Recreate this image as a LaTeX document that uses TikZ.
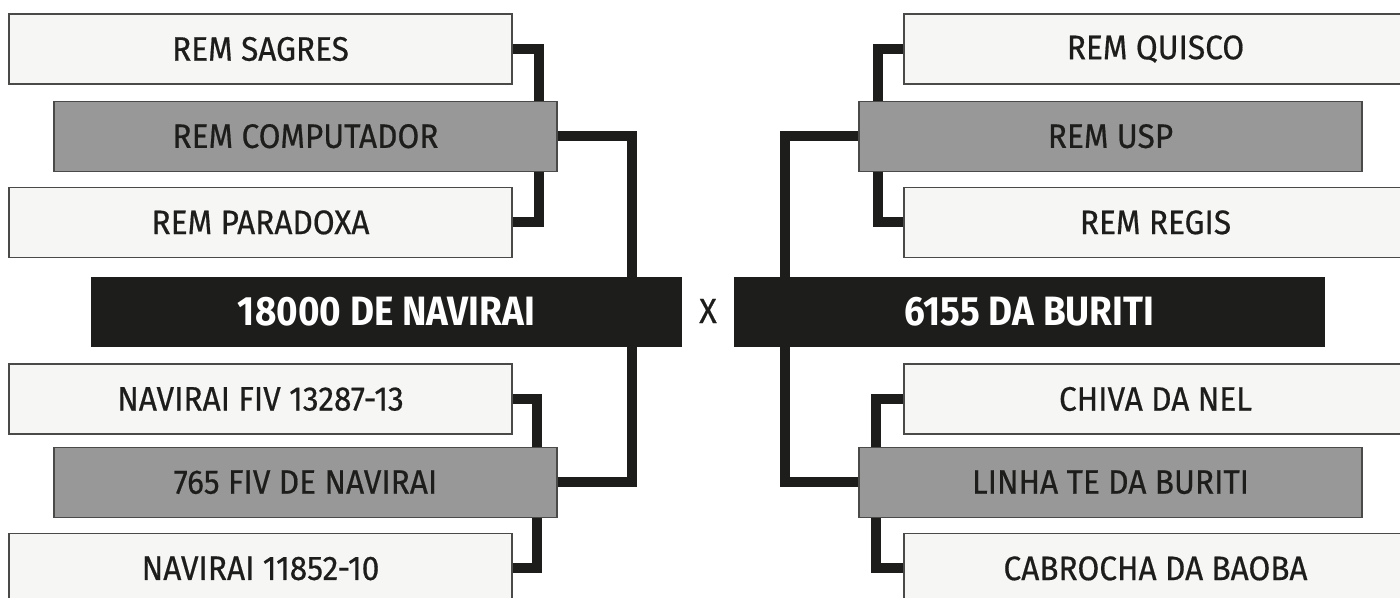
\documentclass[tikz,border=0pt]{standalone}
\usepackage{fontspec}
\setmainfont[FakeStretch=0.93, FakeBold=0.5, BoldFeatures={FakeStretch=0.9, FakeBold=0}]{Fira Sans}
\usepackage{tikz}
\usetikzlibrary{positioning,calc}
\usepackage{xcolor}
\definecolor{ink}{HTML}{1D1D1B}
\definecolor{paper}{HTML}{F6F6F4}
\definecolor{midgray}{HTML}{989898}
\definecolor{edge}{HTML}{4A4A48}

\begin{document}
\begin{tikzpicture}[
  x=1pt, y=-1pt,
  font=\fontsize{34}{38}\selectfont,
  teambase/.style={draw=edge, line width=1.2pt, text=ink,
              minimum width=503pt, minimum height=70pt, inner sep=0pt},
  teamA/.style={teambase, fill=paper},
  teamB/.style={teambase, fill=midgray},
  final/.style={fill=ink, text=white, inner sep=0pt,
              minimum width=591pt, minimum height=70pt,
              font=\fontsize{41}{46}\selectfont\bfseries},
  link/.style={draw=ink, line width=10pt},
]
\useasboundingbox (0,0) rectangle (1400,597);

% left bracket
\node[teamA] (sagres) at (260.5,49) {REM SAGRES};
\node[teamB, below=16pt of sagres, xshift=45pt] (comp) {REM COMPUTADOR};
\node[teamA, below=15pt of comp, xshift=-45pt] (para) {REM PARADOXA};
\node[final] (navirai) at (386.5,312) {18000 DE NAVIRAI};
\node[teamA] (fiv13) at (260.5,399) {NAVIRAI FIV 13287-13};
\node[teamB, below=12pt of fiv13, xshift=45pt] (fiv765) {765 FIV DE NAVIRAI};
\node[teamA, below=15pt of fiv765, xshift=-45pt] (n11852) {NAVIRAI 11852-10};

\draw[link] (sagres.east) -| ([xshift=-19pt]comp.north east);
\draw[link] (para.east) -| ([xshift=-19pt]comp.south east);
\draw[link] (comp.east) -| ([xshift=-50pt]navirai.north east);
\draw[link] (fiv765.east) -| ([xshift=-50pt]navirai.south east);
\draw[link] (fiv13.east) -| ([xshift=-21pt]fiv765.north east);
\draw[link] (n11852.east) -| ([xshift=-21pt]fiv765.south east);

\node[text=ink, font=\fontsize{35}{40}\selectfont] (vs) at (708,311) {X};

% right bracket
\node[teamA] (quisco) at (1155.5,49) {REM QUISCO};
\node[teamB, below=16pt of quisco, xshift=-45pt] (usp) {REM USP};
\node[teamA, below=15pt of usp, xshift=45pt] (regis) {REM REGIS};
\node[final] (buriti) at (1029.5,312) {6155 DA BURITI};
\node[teamA] (chiva) at (1155.5,399) {CHIVA DA NEL};
\node[teamB, below=12pt of chiva, xshift=-45pt] (linha) {LINHA TE DA BURITI};
\node[teamA, below=15pt of linha, xshift=45pt] (cabrocha) {CABROCHA DA BAOBA};

\draw[link] (quisco.west) -| ([xshift=20pt]usp.north west);
\draw[link] (regis.west) -| ([xshift=20pt]usp.south west);
\draw[link] (usp.west) -| ([xshift=51pt]buriti.north west);
\draw[link] (linha.west) -| ([xshift=51pt]buriti.south west);
\draw[link] (chiva.west) -| ([xshift=18pt]linha.north west);
\draw[link] (cabrocha.west) -| ([xshift=18pt]linha.south west);
\end{tikzpicture}
\end{document}
